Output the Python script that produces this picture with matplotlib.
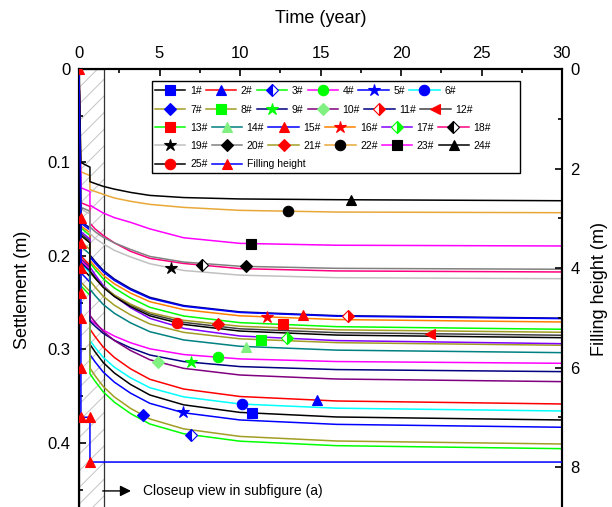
import numpy as np
import matplotlib
matplotlib.use("Agg")
import matplotlib.pyplot as plt
from matplotlib.legend import Legend
from matplotlib.lines import Line2D
from matplotlib.patches import Rectangle
from matplotlib.ticker import MultipleLocator, FuncFormatter

plt.rcParams.update({"font.family": ["Liberation Sans", "DejaVu Sans"],
                     "hatch.linewidth": 0.7})

# common time grid (years); the step at 0.68 yr is the second filling stage
t = [0, 0.12, 0.68, 0.68, 1.0, 1.5, 2.2, 3.2, 4.4, 6.5, 10, 16, 30]

# settlement (m) of each point
s01 = [0, 0.212, 0.222, 0.2945, 0.3026, 0.3139, 0.3252, 0.3374, 0.3487, 0.3592, 0.3673, 0.3722, 0.3754]
s02 = [0, 0.200, 0.210, 0.2782, 0.2862, 0.2974, 0.3086, 0.3207, 0.3319, 0.3423, 0.3503, 0.3551, 0.3583]
s03 = [0, 0.232, 0.242, 0.3260, 0.3340, 0.3452, 0.3564, 0.3685, 0.3797, 0.3901, 0.3981, 0.4029, 0.4061]
s04 = [0, 0.205, 0.214, 0.2679, 0.2726, 0.2792, 0.2857, 0.2928, 0.2993, 0.3054, 0.3101, 0.3129, 0.3148]
s05 = [0, 0.218, 0.228, 0.3055, 0.3133, 0.3241, 0.3350, 0.3467, 0.3576, 0.3677, 0.3754, 0.3801, 0.3832]
s06 = [0, 0.208, 0.218, 0.2903, 0.2979, 0.3084, 0.3190, 0.3303, 0.3409, 0.3507, 0.3583, 0.3628, 0.3658]
s07 = [0, 0.228, 0.238, 0.3200, 0.3281, 0.3395, 0.3508, 0.3630, 0.3743, 0.3849, 0.3930, 0.3979, 0.4011]
s08 = [0, 0.185, 0.193, 0.2264, 0.2333, 0.2430, 0.2527, 0.2630, 0.2727, 0.2817, 0.2886, 0.2927, 0.2955]
s09 = [0, 0.207, 0.216, 0.2697, 0.2751, 0.2827, 0.2902, 0.2983, 0.3059, 0.3129, 0.3183, 0.3215, 0.3237]
s10 = [0, 0.203, 0.212, 0.2636, 0.2707, 0.2806, 0.2905, 0.3011, 0.3110, 0.3202, 0.3273, 0.3316, 0.3344]
s11 = [0, 0.163, 0.170, 0.1990, 0.2058, 0.2152, 0.2247, 0.2348, 0.2442, 0.2530, 0.2598, 0.2638, 0.2665]
s12 = [0, 0.176, 0.184, 0.2157, 0.2226, 0.2323, 0.2420, 0.2523, 0.2620, 0.2710, 0.2779, 0.2820, 0.2848]
s13 = [0, 0.170, 0.178, 0.2072, 0.2143, 0.2243, 0.2343, 0.2449, 0.2549, 0.2642, 0.2713, 0.2756, 0.2784]
s14 = [0, 0.190, 0.198, 0.2355, 0.2423, 0.2518, 0.2613, 0.2715, 0.2810, 0.2898, 0.2966, 0.3007, 0.3034]
s15 = [0, 0.165, 0.172, 0.2012, 0.2078, 0.2170, 0.2262, 0.2361, 0.2453, 0.2538, 0.2604, 0.2644, 0.2670]
s16 = [0, 0.168, 0.175, 0.2048, 0.2114, 0.2206, 0.2298, 0.2397, 0.2489, 0.2574, 0.2640, 0.2680, 0.2706]
s17 = [0, 0.174, 0.182, 0.2118, 0.2200, 0.2315, 0.2430, 0.2553, 0.2667, 0.2774, 0.2856, 0.2905, 0.2938]
s18 = [0, 0.143, 0.147, 0.1650, 0.1710, 0.1780, 0.1860, 0.1950, 0.2025, 0.2080, 0.2135, 0.2160, 0.2171]
s19 = [0, 0.150, 0.155, 0.1760, 0.1810, 0.1870, 0.1940, 0.2010, 0.2083, 0.2155, 0.2205, 0.2232, 0.2243]
s20 = [0, 0.148, 0.152, 0.1690, 0.1740, 0.1800, 0.1860, 0.1930, 0.2005, 0.2065, 0.2110, 0.2132, 0.2142]
s21 = [0, 0.178, 0.186, 0.2176, 0.2240, 0.2330, 0.2419, 0.2515, 0.2605, 0.2688, 0.2752, 0.2790, 0.2816]
s22 = [0, 0.110, 0.114, 0.1290, 0.1310, 0.1340, 0.1380, 0.1415, 0.1448, 0.1480, 0.1512, 0.1530, 0.1537]
s23 = [0, 0.127, 0.131, 0.1455, 0.1490, 0.1540, 0.1590, 0.1640, 0.1710, 0.1805, 0.1865, 0.1885, 0.1893]
s24 = [0, 0.100, 0.105, 0.1205, 0.1225, 0.1255, 0.1285, 0.1320, 0.1352, 0.1375, 0.1390, 0.1398, 0.1409]
s25 = [0, 0.178, 0.186, 0.2165, 0.2236, 0.2335, 0.2434, 0.2541, 0.2640, 0.2732, 0.2803, 0.2846, 0.2874]
settlements = [s01, s02, s03, s04, s05, s06, s07, s08, s09, s10, s11, s12, s13,
               s14, s15, s16, s17, s18, s19, s20, s21, s22, s23, s24, s25]
names = [f"{i}#" for i in range(1, 26)]

# time (yr) where each curve carries its symbol
mark_t = [10.77, 14.76, 6.94, 8.65, 6.44, 10.14, 4.0, 11.3, 6.96, 4.93, 16.7, 21.8, 12.65,
          10.37, 13.9, 11.66, 12.9, 7.66, 5.71, 10.4, 8.65, 13.0, 10.7, 16.9, 6.07]

# filling height (m)
fill_t = [0, 0.12, 0.12, 0.12, 0.12, 0.12, 0.12, 0.12, 0.68, 0.68, 30]
fill_h = [0, 3.0, 3.5, 4.0, 4.5, 5.0, 6.0, 7.0, 7.0, 7.9, 7.9]

OLIVE = "#a29d24"
GRN = "#00ff00"
LGRN = "#80f080"
# line colour, marker, marker colour, fillstyle
style = [
    ("black", "s", "blue", "full"), ("red", "^", "blue", "full"), (GRN, "D", "blue", "left"),
    ("magenta", "o", GRN, "full"), ("blue", "*", "blue", "full"), ("cyan", "o", "blue", "full"),
    (OLIVE, "D", "blue", "full"), (OLIVE, "s", GRN, "full"), ("#000080", "*", GRN, "full"),
    ("#800080", "D", LGRN, "full"), ("#000080", "D", "red", "right"), ("#404040", "<", "red", "full"),
    (GRN, "s", "red", "full"), ("#008080", "^", LGRN, "full"), ("blue", "^", "red", "full"),
    ("#ff8000", "*", "red", "full"), ("#8000ff", "D", GRN, "right"), ("#ff0080", "D", "black", "left"),
    ("#c0c0c0", "*", "black", "full"), ("#808080", "D", "black", "full"), (OLIVE, "D", "red", "full"),
    ("#e8a838", "o", "black", "full"), ("magenta", "s", "black", "full"), ("black", "^", "black", "full"),
    ("black", "o", "red", "full"),
]
MS = {"s": 7, "o": 7.5, "^": 7.5, "<": 7.5, "D": 6, "*": 9}


def mk(marker, mc, fs):
    return dict(marker=marker, markersize=MS[marker], markerfacecolor=mc,
                markeredgecolor=mc, markeredgewidth=0.8, fillstyle=fs,
                markerfacecoloralt="white")


fig = plt.figure(figsize=(6.12, 5.07), dpi=100)
ax = fig.add_axes([79 / 612, 1 - 510 / 507, 483 / 612, 441 / 507])
ax2 = ax.twinx()

ax.axvspan(0, 1.55, facecolor="none", hatch="//", edgecolor="#c4c4c4", lw=0, zorder=0.5)
ax.axvspan(0, 1.55, fill=False, edgecolor="#333333", lw=0.9, zorder=0.6)

handles = []
for s, (lc, m, mc, fs), tm in zip(settlements, style, mark_t):
    ax.plot(t, s, color=lc, lw=1.1, zorder=2)
    ax.plot([tm], [np.interp(tm, t[3:], s[3:])], ls="none", zorder=3, **mk(m, mc, fs))
    handles.append(Line2D([], [], color=lc, lw=1.1, **mk(m, mc, fs)))

ax2.plot(fill_t, fill_h, color="blue", lw=1.1, markevery=list(range(10)), zorder=3,
         **mk("^", "red", "full"))
handles.append(Line2D([], [], color="blue", lw=1.1, **mk("^", "red", "full")))
labels = names + ["Filling height"]

ax.annotate("", xy=(3.4, 0.4513), xytext=(1.3, 0.4513),
            arrowprops=dict(arrowstyle="-|>", color="black", lw=1.0, mutation_scale=16))
ax.text(4.0, 0.4513, "Closeup view in subfigure (a)", fontsize=10, va="center")

# axes
ax.set_xlim(0, 30)
ax.set_ylim(0.4717, 0)
ax2.set_ylim(8.864, 0)
ax.xaxis.set_major_locator(MultipleLocator(5))
ax.xaxis.set_minor_locator(MultipleLocator(2.5))
ax.yaxis.set_major_locator(MultipleLocator(0.1))
ax.yaxis.set_minor_locator(MultipleLocator(0.05))
ax.yaxis.set_major_formatter(FuncFormatter(lambda v, _: f"{v:g}"))
ax2.yaxis.set_major_locator(MultipleLocator(2))
ax2.yaxis.set_minor_locator(MultipleLocator(1))
ax.xaxis.tick_top()
ax.xaxis.set_label_position("top")
ax.tick_params(axis="x", which="both", top=True, bottom=False, direction="in")
ax.tick_params(which="both", direction="in", labelsize=12, pad=6, width=1.2)
ax2.tick_params(which="both", direction="in", labelsize=12, pad=6, width=1.2)
for a in (ax, ax2):
    a.tick_params(which="major", length=5)
    a.tick_params(which="minor", length=3)
    for sp in a.spines.values():
        sp.set_linewidth(1.5)
ax.set_xlabel("Time (year)", fontsize=13, labelpad=16)
ax.set_ylabel("Settlement (m)", fontsize=13, labelpad=12)
ax2.set_ylabel("Filling height (m)", fontsize=13, labelpad=8)

# legend: an Origin-style box, each row laid out on its own
ax2.add_patch(Rectangle((0.1511, 0.7642), 0.7619, 0.2086, transform=ax2.transAxes,
                        facecolor="white", edgecolor="black", lw=1.0, zorder=4))
row_y = [0.9501, 0.9070, 0.8669, 0.8261, 0.7839]
for r, yc in enumerate(row_y):
    hs = handles[6 * r:6 * r + 6]
    ls = labels[6 * r:6 * r + 6]
    leg = Legend(ax2, hs, ls, ncol=len(hs), loc="center left", bbox_to_anchor=(0.1573, yc),
                 bbox_transform=ax2.transAxes, frameon=False, fontsize=7.5, numpoints=1,
                 handlelength=2.93, handletextpad=0.43, columnspacing=0.41,
                 borderpad=0, borderaxespad=0)
    leg.set_zorder(5)
    ax2.add_artist(leg)

fig.savefig("out.png", dpi=100)
